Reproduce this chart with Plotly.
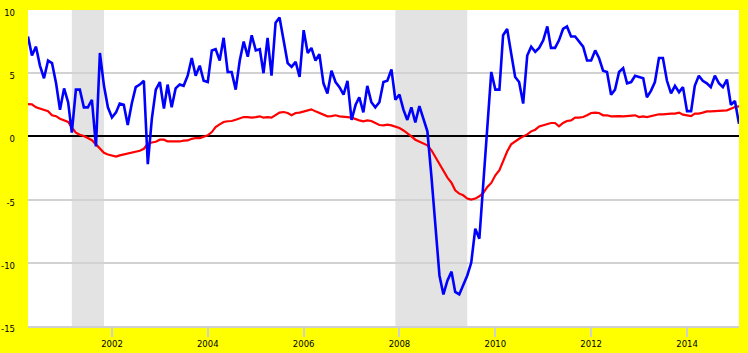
import pandas as pd
import plotly.graph_objects as go

# Monthly observations, April 2000 .. February 2015
start_month = "2000-04-01"

blue_values = [
    7.9, 6.4, 7.1, 5.6, 4.6, 6.0, 5.8, 4.2, 2.1, 3.8, 2.7, 0.3,
    3.7, 3.7, 2.3, 2.3, 2.9, -0.8, 6.6, 4.0, 2.3, 1.5, 1.9, 2.6,
    2.5, 0.9, 2.6, 3.9, 4.1, 4.4, -2.2, 1.4, 3.7, 4.3, 2.2, 4.1,
    2.3, 3.8, 4.1, 4.0, 4.8, 6.2, 4.8, 5.6, 4.4, 4.3, 6.8, 6.9,
    6.0, 7.8, 5.1, 5.1, 3.7, 6.0, 7.5, 6.3, 8.0, 6.8, 6.9, 5.0,
    7.8, 4.8, 9.0, 9.4, 7.6, 5.8, 5.5, 5.9, 4.7, 8.4, 6.6, 7.0,
    6.0, 6.5, 4.2, 3.4, 5.2, 4.3, 3.9, 3.3, 4.4, 1.3, 2.5, 3.1,
    1.9, 4.0, 2.7, 2.3, 2.7, 4.3, 4.4, 5.3, 2.9, 3.3, 2.1, 1.3,
    2.3, 1.1, 2.4, 1.5, 0.4, -3.2, -7.0, -11.0, -12.5, -11.4, -10.7, -12.3,
    -12.5, -11.8, -11.0, -10.0, -7.3, -8.1, -3.7, 0.7, 5.1, 3.7, 3.7, 8.0,
    8.5, 6.6, 4.7, 4.3, 2.6, 6.4, 7.1, 6.7, 7.0, 7.6, 8.7, 7.0,
    7.0, 7.6, 8.5, 8.7, 7.9, 7.9, 7.5, 7.1, 6.0, 6.0, 6.8, 6.2,
    5.2, 5.1, 3.3, 3.7, 5.1, 5.4, 4.2, 4.3, 4.8, 4.7, 4.6, 3.1,
    3.6, 4.3, 6.2, 6.2, 4.4, 3.4, 4.0, 3.5, 3.9, 2.0, 2.0, 4.0,
    4.8, 4.4, 4.2, 3.9, 4.8, 4.2, 3.9, 4.5, 2.5, 2.8, 1.0,
]

red_values = [
    2.55, 2.54, 2.3, 2.2, 2.05, 2.0, 1.67, 1.6, 1.4, 1.27, 1.14, 0.7,
    0.3, 0.13, 0.03, -0.13, -0.3, -0.63, -0.98, -1.3, -1.43, -1.53, -1.6, -1.5,
    -1.43, -1.38, -1.27, -1.24, -1.14, -0.98, -0.58, -0.48, -0.42, -0.26, -0.26, -0.4,
    -0.4, -0.4, -0.4, -0.34, -0.32, -0.19, -0.13, -0.13, -0.05, 0.08, 0.34, 0.74,
    0.95, 1.14, 1.2, 1.22, 1.32, 1.4, 1.53, 1.53, 1.48, 1.53, 1.59, 1.48,
    1.53, 1.48, 1.67, 1.88, 1.93, 1.85, 1.67, 1.85, 1.88, 1.98, 2.06, 2.14,
    1.98, 1.85, 1.72, 1.59, 1.61, 1.67, 1.59, 1.53, 1.53, 1.48, 1.35, 1.27,
    1.19, 1.27, 1.22, 1.06, 0.9, 0.87, 0.93, 0.87, 0.79, 0.66, 0.47, 0.26,
    0.0, -0.26, -0.39, -0.53, -0.71, -1.1, -1.63, -2.24, -2.82, -3.26, -3.68, -4.26,
    -4.53, -4.66, -4.92, -5.0, -4.92, -4.74, -4.47, -4.0, -3.68, -3.08, -2.68, -1.95,
    -1.2, -0.63, -0.37, -0.19, 0.0, 0.16, 0.4, 0.53, 0.79, 0.87, 1.0, 1.06,
    1.06, 0.79, 1.06, 1.22, 1.27, 1.48, 1.48, 1.53, 1.67, 1.85, 1.88, 1.85,
    1.67, 1.67, 1.59, 1.61, 1.61, 1.59, 1.61, 1.61, 1.67, 1.53, 1.59, 1.53,
    1.61, 1.72, 1.75, 1.75, 1.8, 1.8, 1.8, 1.88, 1.72, 1.67, 1.61, 1.8,
    1.8, 1.88, 1.98, 1.98, 2.01, 2.01, 2.06, 2.06, 2.19, 2.33, 2.38,
]

recession_starts = ["2001-03-01", "2007-12-01"]
recession_ends = ["2001-11-01", "2009-06-01"]

tick_years = [2002, 2004, 2006, 2008, 2010, 2012, 2014]
y_ticks = [10, 5, 0, -5, -10, -15]

dates = pd.date_range(start_month, periods=len(blue_values), freq="MS")

fig = go.Figure()
fig.add_trace(go.Scatter(x=dates, y=red_values, mode="lines",
                         line=dict(color="#ff0000", width=2.2), showlegend=False))
fig.add_trace(go.Scatter(x=dates, y=blue_values, mode="lines",
                         line=dict(color="#0000ff", width=2.6), showlegend=False))

for s, e in zip(recession_starts, recession_ends):
    fig.add_shape(type="rect", xref="x", yref="paper", x0=s, x1=e, y0=0, y1=1,
                  fillcolor="#e3e3e3", line=dict(width=0), layer="below")

font = dict(family="DejaVu Sans", size=8.5, color="#000000")
fig.update_layout(
    width=748, height=353,
    margin=dict(l=28, r=9, t=10, b=27, autoexpand=False),
    paper_bgcolor="#ffff00", plot_bgcolor="#ffffff",
    font=font,
    xaxis=dict(
        type="date", automargin=False,
        range=[dates[0], dates[-1]],
        tickvals=[f"{y}-01-01" for y in tick_years],
        ticktext=[str(y) for y in tick_years],
        ticks="outside", ticklen=9, tickwidth=2, tickcolor="#cfcfcf",
        showgrid=False, showline=True, linecolor="#cfcfcf", linewidth=2,
        tickfont=font, zeroline=False,
    ),
    yaxis=dict(
        range=[-15, 10], tickvals=y_ticks, ticktext=[str(v) for v in y_ticks],
        automargin=False,
        showgrid=True, gridcolor="#d2d2d2", gridwidth=1.5,
        zeroline=True, zerolinecolor="#000000", zerolinewidth=2.2,
        showline=False, ticks="", ticklabelstandoff=12, ticklabelshift=3,
        tickfont=font,
    ),
)

fig.write_html("out.html")
